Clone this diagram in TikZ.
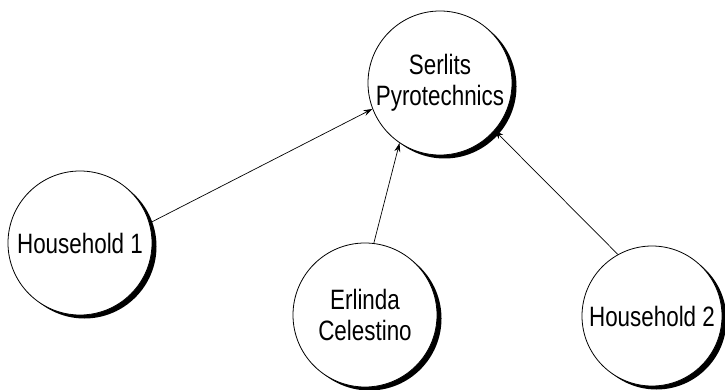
\documentclass[tikz,border=0pt]{standalone}
\usepackage{fontspec}
\setmainfont{Liberation Sans}[FakeStretch=0.8]
\usetikzlibrary{arrows.meta,shadows}
\begin{document}
\begin{tikzpicture}[x=1pt,y=-1pt,
  circ/.style={circle, draw, line width=0.8pt, fill=white, minimum size=144pt,
    inner sep=0pt, align=center, font=\fontsize{28}{31}\selectfont,
    general shadow={fill=black, shadow xshift=4.5pt, shadow yshift=-3.5pt}},
  arr/.style={-{Stealth[length=9pt,width=6pt]}, line width=0.7pt}]
\useasboundingbox (0,0) rectangle (725,390);
\node[circ] (serl) at (440,83) {Serlits\\Pyrotechnics};
\node[circ] (hh1) at (80,243) {Household 1};
\node[circ] (erl) at (365,315) {Erlinda\\Celestino};
\node[circ, minimum size=140pt] (hh2) at (652,316) {Household 2};
\draw[arr] (hh1.16) -- (serl.201);
\draw[arr] (erl.83) -- (serl.236);
\draw[arr] (hh2.119) -- (serl.-41);
\end{tikzpicture}
\end{document}
